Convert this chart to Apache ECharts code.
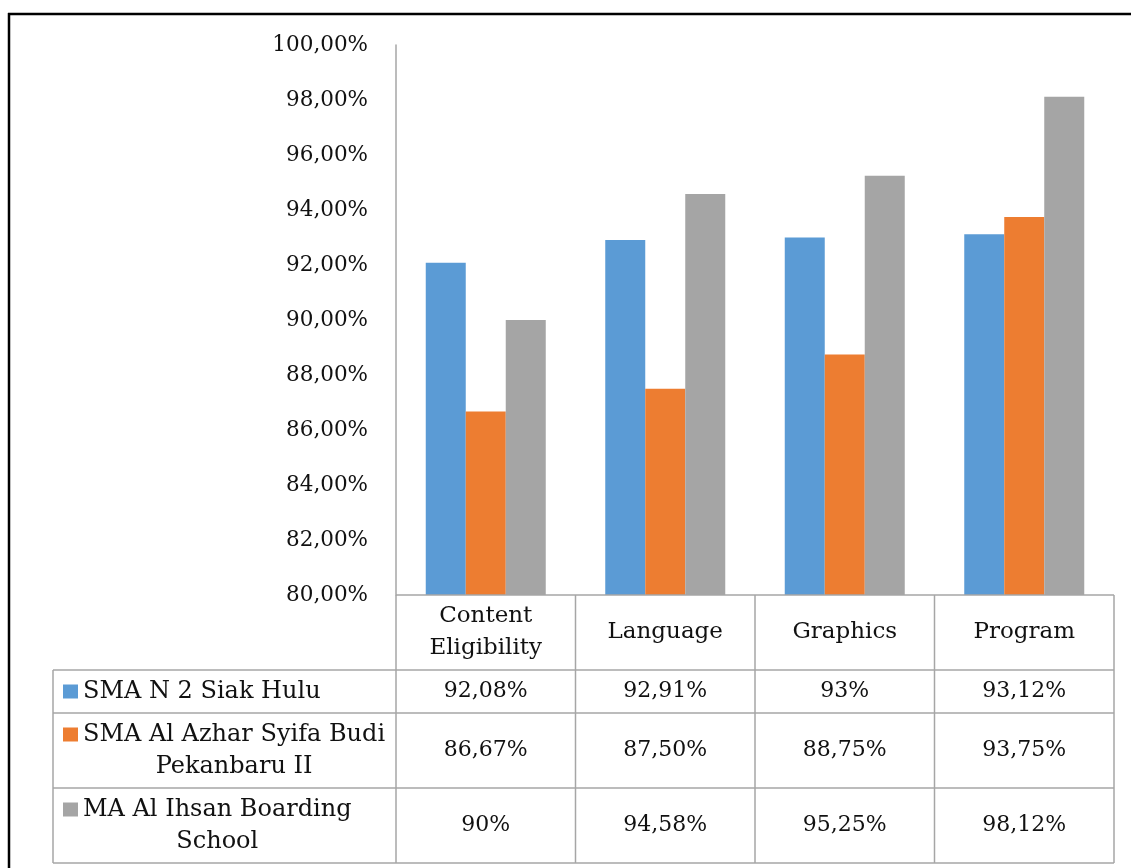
<!DOCTYPE html>
<html><head><meta charset="utf-8">
<script src="https://cdn.jsdelivr.net/npm/echarts@6/dist/echarts.min.js"></script>
<style>html,body{margin:0;padding:0;background:#fff}#c{width:1133px;height:868px}</style>
</head><body><div id="c"></div>
<script>
// ---- data ----
const categories = ['Content\nEligibility', 'Language', 'Graphics', 'Program'];
const seriesNames = ['SMA N 2 Siak Hulu', 'SMA Al Azhar Syifa Budi\nPekanbaru II', 'MA Al Ihsan Boarding\nSchool'];
const smaN2SiakHulu = [92.08, 92.91, 93, 93.12];
const smaAlAzhar = [86.67, 87.50, 88.75, 93.75];
const maAlIhsan = [90, 94.58, 95.25, 98.12];
const yMin = 80, yMax = 100, yStep = 2;

// ---- style ----
const colors = ['#5B9BD5', '#ED7D31', '#A5A5A5'];
const FONT_FAMILY = '"DejaVu Serif", serif';
const NUM_SIZE = 22, AXIS_SIZE = 21.5, HEAD_SIZE = 23, NAME_SIZE = 24;
const LINE_COLOR = '#a6a6a6';
const TEXT_COLOR = '#111';
const GRID = { left: 396, right: 19, top: 45, bottom: 273 };
const ROW_H = [43, 75, 75]; // data rows below the header
const TABLE_LEFT = 53;

const seriesData = [smaN2SiakHulu, smaAlAzhar, maAlIhsan];
const fmtPct = v => (Number.isInteger(v) ? String(v) : v.toFixed(2).replace('.', ',')) + '%';

const chart = echarts.init(document.getElementById('c'), null, { renderer: 'canvas' });
chart.setOption({
  animation: false,
  backgroundColor: '#fff',
  grid: { left: GRID.left, right: GRID.right, top: GRID.top, bottom: GRID.bottom, containLabel: false },
  xAxis: {
    type: 'category', data: categories,
    axisLine: { show: false }, axisTick: { show: false }, axisLabel: { show: false }, splitLine: { show: false }
  },
  yAxis: {
    type: 'value', min: yMin, max: yMax, interval: yStep,
    axisLine: { show: true, lineStyle: { color: LINE_COLOR, width: 1.5 } },
    axisTick: { show: false }, splitLine: { show: false },
    axisLabel: {
      margin: 28, fontFamily: FONT_FAMILY, fontSize: AXIS_SIZE, color: TEXT_COLOR,
      formatter: v => v.toFixed(2).replace('.', ',') + '%'
    }
  },
  series: seriesData.map((d, i) => ({
    type: 'bar', name: seriesNames[i], data: d, barWidth: 40, barGap: '0%',
    itemStyle: { color: colors[i] }
  }))
});

// ---- data table built from the axis geometry ----
const ctx = document.createElement('canvas').getContext('2d');
ctx.font = NAME_SIZE + 'px ' + FONT_FAMILY;
const H = chart.getHeight(), W = chart.getWidth();
const axisY = H - GRID.bottom;
const centers = categories.map((c, i) => chart.convertToPixel({ xAxisIndex: 0 }, i));
const band = centers.length > 1 ? centers[1] - centers[0] : (W - GRID.left - GRID.right);
const edges = [centers[0] - band / 2].concat(centers.map(c => c + band / 2));
const headerBottom = axisY + 75;
const rowEdges = [headerBottom];
ROW_H.forEach(h => rowEdges.push(rowEdges[rowEdges.length - 1] + h));
const right = edges[edges.length - 1];

const g = [];
const line = (x1, y1, x2, y2, stroke, w) => g.push({ type: 'line', silent: true, z: 10,
  shape: { x1, y1, x2, y2 }, style: { stroke, lineWidth: w } });
const text = (x, y, s, size) => g.push({ type: 'text', silent: true, z: 11, x, y,
  style: { text: s, fontFamily: FONT_FAMILY, fontSize: size, fill: TEXT_COLOR,
    align: 'center', verticalAlign: 'middle', lineHeight: 32 } });

// horizontal lines
line(edges[0], axisY, right, axisY, LINE_COLOR, 1.5);
rowEdges.forEach(y => line(TABLE_LEFT, y, right, y, LINE_COLOR, 1.5));
// vertical lines
edges.forEach(x => line(x, axisY, x, rowEdges[rowEdges.length - 1], LINE_COLOR, 1.5));
line(TABLE_LEFT, headerBottom, TABLE_LEFT, rowEdges[rowEdges.length - 1], LINE_COLOR, 1.5);

// header
categories.forEach((c, i) => text(centers[i], (axisY + headerBottom) / 2, c, HEAD_SIZE));
// rows
seriesNames.forEach((name, r) => {
  const yc = (rowEdges[r] + rowEdges[r + 1]) / 2;
  const lines = name.split('\n');
  const widths = lines.map(l => ctx.measureText(l).width);
  const maxW = Math.max.apply(null, widths);
  const textLeft = TABLE_LEFT + 30;
  text(textLeft + maxW / 2, yc, name, NAME_SIZE);
  const firstLineY = yc - (lines.length - 1) * 16;
  const firstLeft = textLeft + (maxW - widths[0]) / 2;
  g.push({ type: 'rect', silent: true, z: 11,
    shape: { x: firstLeft - 20, y: firstLineY - 7, width: 15, height: 14 },
    style: { fill: colors[r] } });
  seriesData[r].forEach((v, i) => text(centers[i], yc, fmtPct(v), NUM_SIZE));
});

// outer frame
line(8, 14, 1131, 14, '#000', 2.5);
line(9, 13, 9, H, '#000', 2.5);

chart.setOption({ graphic: { elements: g } });
</script></body></html>
